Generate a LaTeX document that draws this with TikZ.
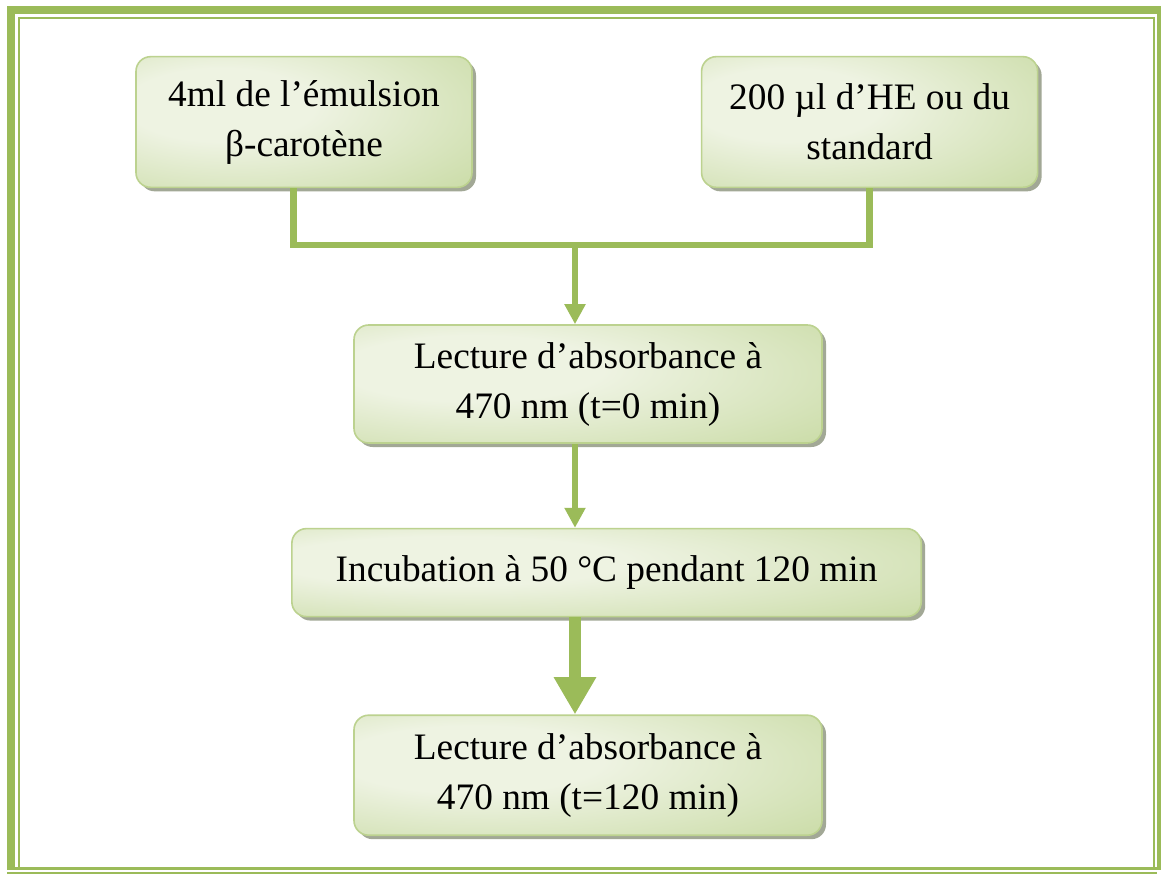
\documentclass[tikz,border=0pt]{standalone}
\usepackage{fontspec}
\setmainfont{Liberation Serif}
\usetikzlibrary{arrows.meta,positioning,shadows}
\definecolor{framegreen}{HTML}{9BBB59}
\definecolor{boxline}{HTML}{BCD28F}
\definecolor{boxlight}{HTML}{EEF3E2}
\definecolor{boxdark}{HTML}{C0D596}
\definecolor{boxshadow}{HTML}{A2A896}
\pgfdeclareradialshading{boxglow}{\pgfpoint{-15bp}{8bp}}{color(0bp)=(boxlight); color(14bp)=(boxlight); color(52bp)=(boxdark); color(80bp)=(boxdark)}

\begin{document}
\begin{tikzpicture}[x=0.75pt, y=-0.75pt]
        \tikzstyle{stepbox} = [rectangle, draw=boxline, line width=1.2pt, shading=boxglow, rounded corners=11pt, align=center, inner sep=0pt, font=\fontsize{28}{37.5}\selectfont, drop shadow={shadow xshift=3pt, shadow yshift=-3pt, fill=boxshadow, opacity=1}]
        \tikzstyle{link} = [draw=framegreen, line width=5pt]
        \tikzstyle{flow} = [link, -{Triangle[width=15pt,length=15pt]}]
        \tikzstyle{bigflow} = [draw=framegreen, line width=9pt, -{Triangle[width=30pt,length=28pt]}]

        \useasboundingbox (0,0) rectangle (1161,874);

        % page frame
        \fill[framegreen] (7,6) rectangle (1161,870);
        \fill[white] (15,14) rectangle (1157,867);
        \draw[framegreen, line width=1.4pt] (19,867) -- (19,18) -- (1154,18) -- (1154,867);
        \draw[framegreen, line width=1.4pt] (7,873) -- (1157,873);

        \node [stepbox, minimum width=252pt, minimum height=98pt] (emulsion) at (304,122) {4ml de l’émulsion\\β-carotène};
        \node [stepbox, minimum width=252pt, minimum height=98pt, right=171pt of emulsion] (huile) {200 µl d’HE ou du\\standard};
        \node [stepbox, minimum width=351pt, minimum height=88.5pt] (lecture0) at (588,384) {Lecture d’absorbance à\\470 nm (t=0 min)};
        \node [stepbox, minimum width=472pt, minimum height=66pt, below=63pt of lecture0, xshift=13.9pt] (incub) {Incubation à 50 °C pendant 120 min};
        \node [stepbox, minimum width=351pt, minimum height=90pt, below=72.75pt of incub, xshift=-13.9pt] (lecture1) {Lecture d’absorbance à\\470 nm (t=120 min)};

        \coordinate (join) at (575,245);

        \draw [link] ([xshift=-8pt]emulsion.south) |- (huile.south |- join) -- (huile.south);
        \draw [flow] (join) -- (join |- lecture0.north);
        \draw [flow] (lecture0.south -| join) -- (incub.north -| join);
        \draw [bigflow] (incub.south -| join) -- (lecture1.north -| join);
    \end{tikzpicture}
\end{document}
